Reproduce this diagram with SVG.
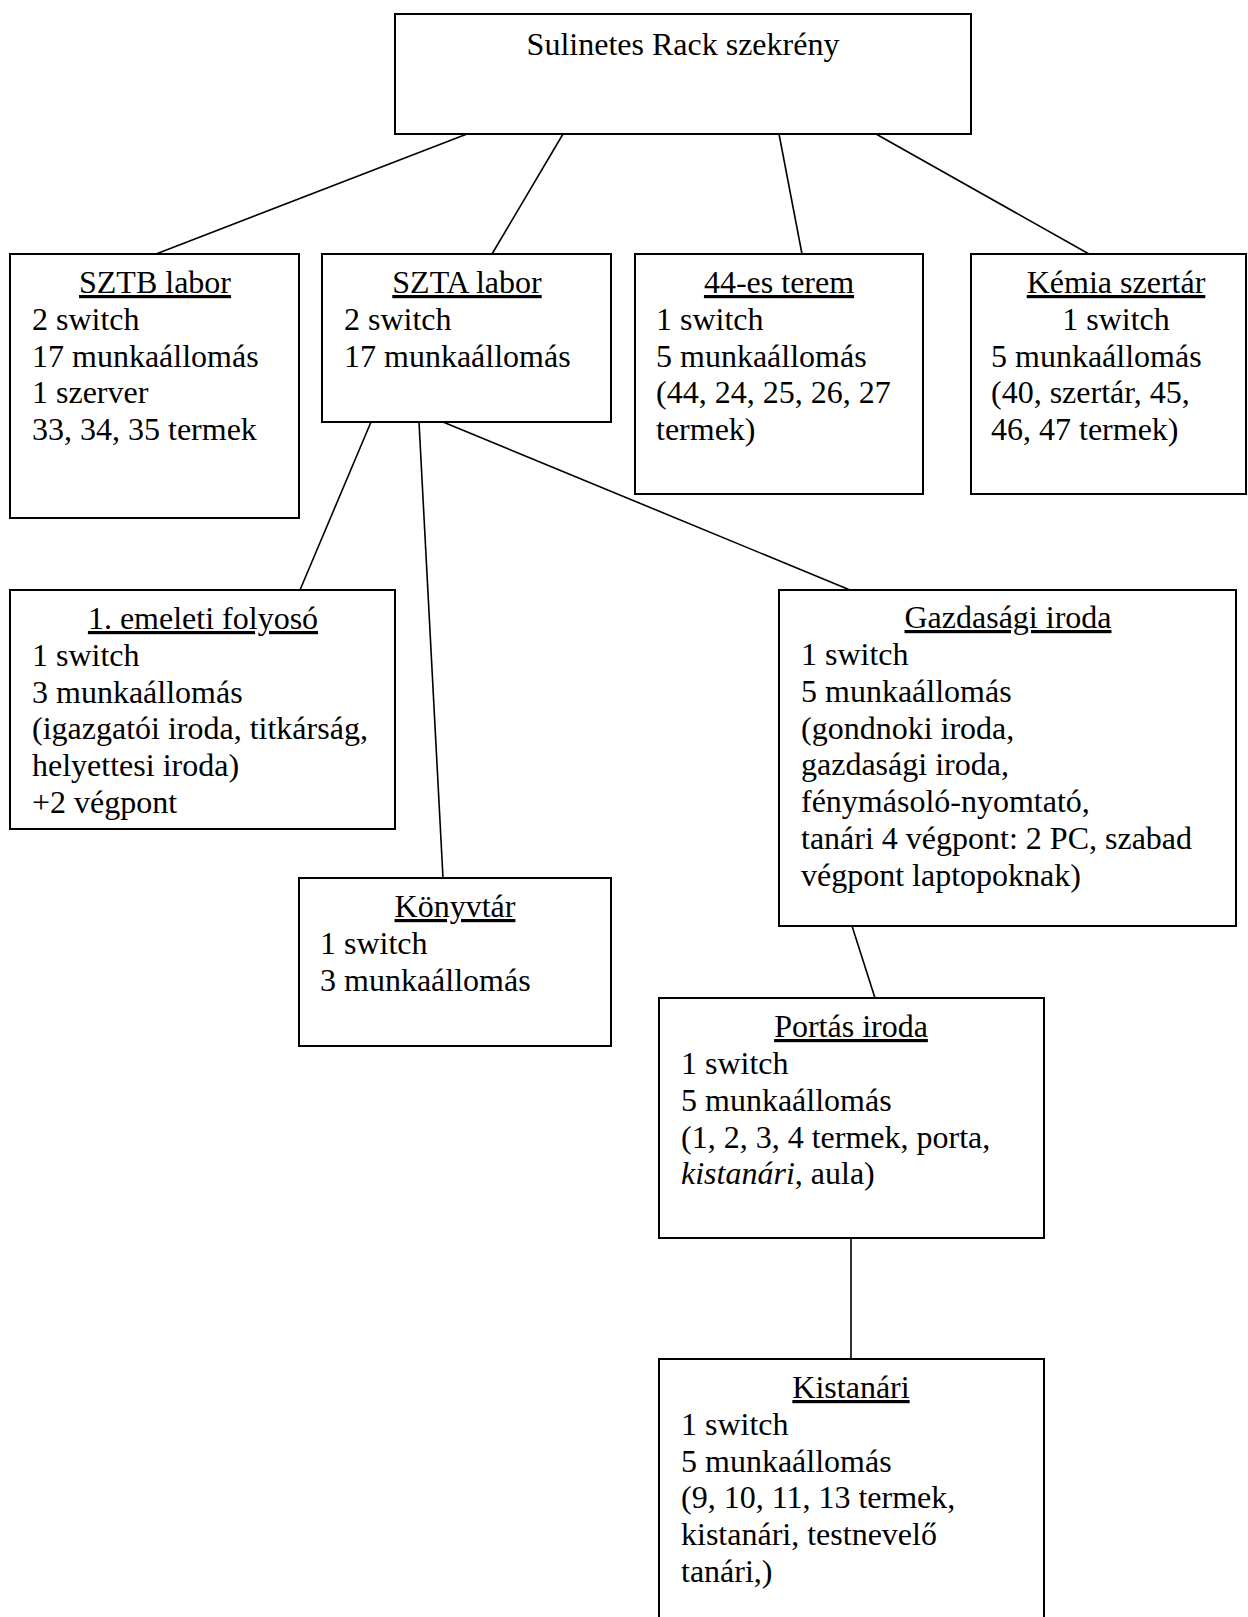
<svg xmlns="http://www.w3.org/2000/svg" width="1248" height="1617" viewBox="0 0 1248 1617">
<style>
rect.box{fill:#fff;stroke:#000;stroke-width:2}
#connectors line{stroke:#000;stroke-width:1.6}
text{font-family:"Liberation Serif","Times New Roman",serif;font-size:32px;fill:#000}
.t{text-anchor:middle;text-decoration:underline}
.c{text-anchor:middle}
</style>
<rect width="1248" height="1617" fill="#fff"/>
<g id="connectors">
<line x1="467" y1="134" x2="156" y2="254"/>
<line x1="563" y1="134" x2="492" y2="254"/>
<line x1="779" y1="134" x2="802" y2="254"/>
<line x1="876" y1="134" x2="1089" y2="254"/>
<line x1="371" y1="422" x2="300" y2="590"/>
<line x1="419" y1="422" x2="443" y2="878"/>
<line x1="443" y1="422" x2="850" y2="590"/>
<line x1="852" y1="926" x2="875" y2="998"/>
<line x1="851" y1="1238" x2="851" y2="1359"/>
</g>
<g id="rack">
<rect class="box" x="395" y="14" width="576" height="120"/>
<text class="c" x="683" y="55">Sulinetes Rack szekrény</text>
</g>
<g id="sztb">
<rect class="box" x="10" y="254" width="289" height="264"/>
<text class="t" x="155" y="293">SZTB labor</text>
<text x="32" y="330">2 switch</text>
<text x="32" y="367">17 munkaállomás</text>
<text x="32" y="403">1 szerver</text>
<text x="32" y="440">33, 34, 35 termek</text>
</g>
<g id="szta">
<rect class="box" x="322" y="254" width="289" height="168"/>
<text class="t" x="467" y="293">SZTA labor</text>
<text x="344" y="330">2 switch</text>
<text x="344" y="367">17 munkaállomás</text>
</g>
<g id="terem44">
<rect class="box" x="635" y="254" width="288" height="240"/>
<text class="t" x="779" y="293">44-es terem</text>
<text x="656" y="330">1 switch</text>
<text x="656" y="367">5 munkaállomás</text>
<text x="656" y="403">(44, 24, 25, 26, 27</text>
<text x="656" y="440">termek)</text>
</g>
<g id="kemia">
<rect class="box" x="971" y="254" width="275" height="240"/>
<text class="t" x="1116" y="293">Kémia szertár</text>
<text class="c" x="1116" y="330">1 switch</text>
<text x="991" y="367">5 munkaállomás</text>
<text x="991" y="403">(40, szertár, 45,</text>
<text x="991" y="440">46, 47 termek)</text>
</g>
<g id="folyoso">
<rect class="box" x="10" y="590" width="385" height="239"/>
<text class="t" x="203" y="629">1. emeleti folyosó</text>
<text x="32" y="666">1 switch</text>
<text x="32" y="703">3 munkaállomás</text>
<text x="32" y="739">(igazgatói iroda, titkárság,</text>
<text x="32" y="776">helyettesi iroda)</text>
<text x="32" y="813">+2 végpont</text>
</g>
<g id="konyvtar">
<rect class="box" x="299" y="878" width="312" height="168"/>
<text class="t" x="455" y="917">Könyvtár</text>
<text x="320" y="954">1 switch</text>
<text x="320" y="991">3 munkaállomás</text>
</g>
<g id="gazdasagi">
<rect class="box" x="779" y="590" width="457" height="336"/>
<text class="t" x="1008" y="628">Gazdasági iroda</text>
<text x="801" y="665">1 switch</text>
<text x="801" y="702">5 munkaállomás</text>
<text x="801" y="739">(gondnoki iroda,</text>
<text x="801" y="775">gazdasági iroda,</text>
<text x="801" y="812">fénymásoló-nyomtató,</text>
<text x="801" y="849">tanári 4 végpont: 2 PC, szabad</text>
<text x="801" y="886">végpont laptopoknak)</text>
</g>
<g id="portas">
<rect class="box" x="659" y="998" width="385" height="240"/>
<text class="t" x="851" y="1037">Portás iroda</text>
<text x="681" y="1074">1 switch</text>
<text x="681" y="1111">5 munkaállomás</text>
<text x="681" y="1148">(1, 2, 3, 4 termek, porta,</text>
<text x="681" y="1184"><tspan font-style="italic">kistanári</tspan>, aula)</text>
</g>
<g id="kistanari">
<rect class="box" x="659" y="1359" width="385" height="280"/>
<text class="t" x="851" y="1398">Kistanári</text>
<text x="681" y="1435">1 switch</text>
<text x="681" y="1472">5 munkaállomás</text>
<text x="681" y="1508">(9, 10, 11, 13 termek,</text>
<text x="681" y="1545">kistanári, testnevelő</text>
<text x="681" y="1582">tanári,)</text>
</g>
</svg>
